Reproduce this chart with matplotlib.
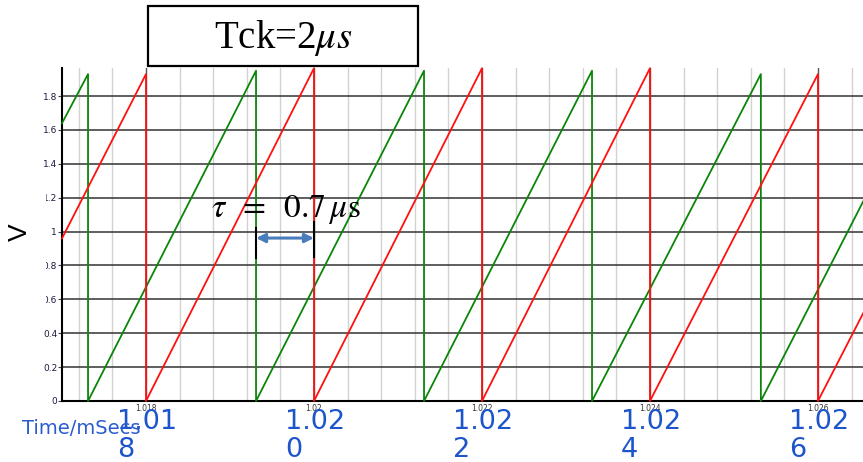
import numpy as np
import matplotlib
matplotlib.use("Agg")
import matplotlib.pyplot as plt
from matplotlib.patches import Rectangle
from matplotlib.transforms import blended_transform_factory

plt.rcParams['mathtext.fontset'] = 'stix'

# ---------------------------------------------------------------
# DATA (time in ms, voltage in V) - sawtooth vertices
# ---------------------------------------------------------------
green_t = [1.01700, 1.01731, 1.01731, 1.01931, 1.01931, 1.02131, 1.02131,
           1.02331, 1.02331, 1.02532, 1.02532, 1.02654]
green_v = [1.64, 1.93, 0.0, 1.95, 0.0, 1.95, 0.0, 1.95, 0.0, 1.93, 0.0, 1.18]

red_t = [1.01700, 1.01800, 1.01800, 1.02000, 1.02000, 1.02200, 1.02200,
         1.02400, 1.02400, 1.02600, 1.02600, 1.02654]
red_v = [0.96, 1.93, 0.0, 1.965, 0.0, 1.965, 0.0, 1.965, 0.0, 1.93, 0.0, 0.52]

x_ticks = [1.018, 1.020, 1.022, 1.024, 1.026]
x_labels = ['1.018', '1.02', '1.022', '1.024', '1.026']
big_labels = ['1.01\n8', '1.02\n0', '1.02\n2', '1.02\n4', '1.02\n6']
minor_x = [1.0172, 1.0176, 1.0184, 1.0188, 1.0192, 1.0196, 1.0204, 1.0208,
           1.0212, 1.0216, 1.0224, 1.0228, 1.0232, 1.0236, 1.0244, 1.0248,
           1.0252, 1.0256, 1.0264]
y_ticks = [0, 0.2, 0.4, 0.6, 0.8, 1.0, 1.2, 1.4, 1.6, 1.8]
y_labels = ['0', '0.2', '0.4', '0.6', '0.8', '1', '1.2', '1.4', '1.6', '1.8']

tau_start = 1.01931   # green reset
tau_end = 1.02000     # red reset

W, H = 863, 462
fig = plt.figure(figsize=(W / 100, H / 100), dpi=100)
ax = fig.add_axes([62 / W, 61 / H, 801 / W, 333 / H])

ax.plot(green_t, green_v, color='#0a850a', lw=1.3, zorder=3, clip_on=False)
ax.plot(red_t, red_v, color='#ff1010', lw=1.3, zorder=4, clip_on=False)

ax.set_xlim(1.0170, 1.026536)
ax.set_ylim(0, 1.966)

ax.set_xticks(x_ticks)
ax.set_xticklabels(x_labels, fontsize=5.5, color='#333333')
ax.set_xticks(minor_x, minor=True)
ax.set_yticks(y_ticks)
ax.set_yticklabels(y_labels, fontsize=6.5, color='#1a1a40')
ax.tick_params(axis='x', which='both', length=0, pad=2)
ax.tick_params(axis='y', length=3, color='#444444', pad=0.5)

ax.grid(True, which='major', axis='y', color='#333333', lw=1.1, zorder=1)
ax.grid(True, which='major', axis='x', color='#555555', lw=1.0, zorder=1)
ax.grid(True, which='minor', axis='x', color='#d2d2d2', lw=1.0, zorder=1)

for s in ['top', 'right']:
    ax.spines[s].set_visible(False)
ax.spines['left'].set_linewidth(1.5)
ax.spines['bottom'].set_linewidth(1.5)

# white box behind the V label hides part of some tick labels
fig.patches.append(Rectangle((0, (H - 312) / H), 45.5 / W, 122 / H,
                             transform=fig.transFigure, facecolor='white',
                             edgecolor='none', zorder=5))
fig.text(20 / W, (H - 232) / H, 'V', rotation=90, fontsize=19,
         family='Liberation Sans', ha='center', va='center', zorder=6)

# blue axis labels
fig.text(22 / W, (H - 429) / H, 'Time/mSecs', fontsize=14, color='#2a5cd0',
         ha='left', va='center')
trans = blended_transform_factory(ax.transData, fig.transFigure)
for xt, lab in zip(x_ticks, big_labels):
    ax.text(xt + 0.00001, (H - 409) / H, lab, transform=trans,
            fontsize=19.5, color='#1c54cc', ha='center', va='top',
            multialignment='left', linespacing=1.08, clip_on=False)

# title box
fig.patches.append(Rectangle((148 / W, (H - 66) / H), 270 / W, 60 / H,
                             transform=fig.transFigure, facecolor='white',
                             edgecolor='black', lw=1.6))
fig.text(283 / W, (H - 48) / H, r'Tck=2$\mu s$', fontsize=28,
         family='Liberation Serif', ha='center', va='baseline')

# delay annotation
ax.text(1.019670, 1.086, r'$\tau\;\;=\;\;0.7\,\mu\mathrm{s}$', fontsize=24,
        ha='center', va='baseline', zorder=6)
ax.plot([tau_start, tau_start], [0.844, 1.021], color='black', lw=1.5, zorder=6)
ax.plot([tau_end, tau_end], [0.85, 1.056], color='black', lw=1.5, zorder=6)
ax.annotate('', xy=(tau_end, 0.962), xytext=(tau_start, 0.962),
            arrowprops=dict(arrowstyle='<|-|>', color='#4a7ebb', lw=2.2,
                            mutation_scale=13, shrinkA=0, shrinkB=0),
            zorder=6)

fig.savefig('out.png', dpi=100)
